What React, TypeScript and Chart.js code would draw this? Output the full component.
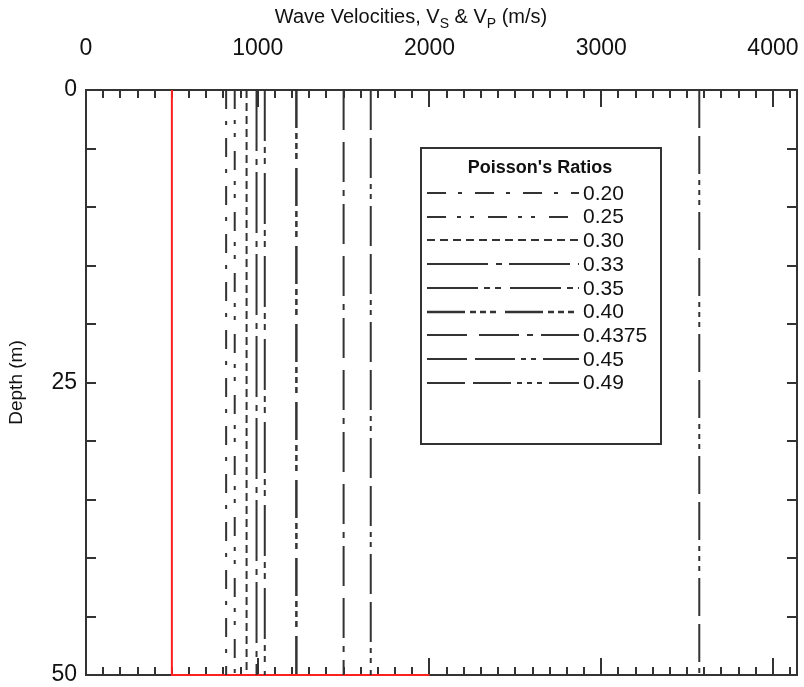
import React, { useEffect, useRef } from "react";
import { Chart, registerables } from "chart.js";

Chart.register(...registerables);

// ---- Data ----
const poissonRatios = ["0.20", "0.25", "0.30", "0.33", "0.35", "0.40", "0.4375", "0.45", "0.49"];
const vpValues = [816, 866, 935, 993, 1041, 1225, 1500, 1658, 3571]; // m/s
const profileDepths = [0, 50]; // m
const vsValues = [500, 500, 2000]; // m/s
const vsDepths = [0, 50, 50]; // m
const xTickLabels = [0, 1000, 2000, 3000, 4000];
const yTickLabels = [0, 25, 50];

// ---- Styles ----
const dashStyles: number[][] = [
  [19, 12, 4, 13],
  [19, 11, 4, 9, 4, 14],
  [8, 5],
  [61, 8, 6, 7],
  [51, 6, 6, 5, 6, 9],
  [38, 5, 6, 4, 6, 4, 6, 9],
  [40, 12, 40, 8, 6, 8],
  [40, 8, 40, 6, 5, 5, 5, 7],
  [38, 8, 38, 6, 5, 5, 5, 5, 5, 7],
];
const FONT = "Arial, 'Liberation Sans', Helvetica, sans-serif";
const INK = "#333";
const X_MAX = 4140;

const decorPlugin = {
  id: "decor",
  beforeDatasetsDraw(chart: any) {
    const { ctx, chartArea, scales } = chart;
    const { left, right, top, bottom } = chartArea;
    const x = scales.x;
    const y = scales.y;
    ctx.save();
    ctx.strokeStyle = INK;
    ctx.lineWidth = 2;
    ctx.strokeRect(left, top, right - left, bottom - top);
    ctx.beginPath();
    for (let v = 100; v < X_MAX; v += 100) {
      const px = Math.round(x.getPixelForValue(v));
      const len = v % 1000 === 0 ? 17 : 8;
      ctx.moveTo(px, top);
      ctx.lineTo(px, top + len);
      ctx.moveTo(px, bottom);
      ctx.lineTo(px, bottom - len);
    }
    for (let d = 5; d < 50; d += 5) {
      const py = Math.round(y.getPixelForValue(d));
      const len = 10;
      ctx.moveTo(left, py);
      ctx.lineTo(left + len, py);
      ctx.moveTo(right, py);
      ctx.lineTo(right - len, py);
    }
    ctx.stroke();
    ctx.restore();
  },
  afterDatasetsDraw(chart: any) {
    const { ctx, chartArea } = chart;
    ctx.save();
    // Legend box
    const bx = 421, by = 148, bw = 240, bh = 296;
    ctx.fillStyle = "#fff";
    ctx.fillRect(bx, by, bw, bh);
    ctx.strokeStyle = INK;
    ctx.lineWidth = 2;
    ctx.strokeRect(bx, by, bw, bh);
    ctx.fillStyle = "#111";
    ctx.font = `bold 18px ${FONT}`;
    ctx.textAlign = "center";
    ctx.textBaseline = "middle";
    ctx.fillText("Poisson's Ratios", 540, 168);
    ctx.font = `21px ${FONT}`;
    ctx.textAlign = "left";
    poissonRatios.forEach((label, i) => {
      const ry = 193 + i * 23.7;
      ctx.strokeStyle = INK;
      ctx.lineWidth = i === 5 ? 2.5 : 2;
      ctx.setLineDash(dashStyles[i]);
      ctx.beginPath();
      ctx.moveTo(427, Math.round(ry));
      ctx.lineTo(579, Math.round(ry));
      ctx.stroke();
      ctx.setLineDash([]);
      ctx.fillStyle = "#111";
      ctx.fillText(label, 583, ry + 1);
    });
    // X axis title with subscripts
    const parts: [string, boolean][] = [
      ["Wave Velocities, V", false],
      ["S", true],
      [" & V", false],
      ["P", true],
      [" (m/s)", false],
    ];
    const mainFont = `20px ${FONT}`;
    const subFont = `14px ${FONT}`;
    let total = 0;
    parts.forEach(([t, sub]) => {
      ctx.font = sub ? subFont : mainFont;
      total += ctx.measureText(t).width;
    });
    let cx = 411 - total / 2;
    const ty = 17;
    ctx.textAlign = "left";
    ctx.textBaseline = "middle";
    parts.forEach(([t, sub]) => {
      ctx.font = sub ? subFont : mainFont;
      ctx.fillText(t, cx, sub ? ty + 7 : ty);
      cx += ctx.measureText(t).width;
    });
    // Y axis title
    ctx.font = `19px ${FONT}`;
    ctx.translate(17, (chartArea.top + chartArea.bottom) / 2);
    ctx.rotate(-Math.PI / 2);
    ctx.textAlign = "center";
    ctx.fillText("Depth (m)", 0, 0);
    ctx.restore();
  },
};

export default function App() {
  const ref = useRef<HTMLCanvasElement>(null);
  useEffect(() => {
    if (!ref.current) return;
    const datasets: any[] = vpValues.map((v, i) => ({
      label: poissonRatios[i],
      data: profileDepths.map((d) => ({ x: v, y: d })),
      borderColor: INK,
      borderWidth: i === 5 ? 2.5 : 2,
      borderDash: dashStyles[i],
      pointRadius: 0,
      showLine: true,
      fill: false,
    }));
    datasets.push({
      label: "Vs",
      data: vsValues.map((v, i) => ({ x: v, y: vsDepths[i] })),
      borderColor: "#ff2020",
      borderWidth: 2,
      pointRadius: 0,
      showLine: true,
      fill: false,
      clip: false,
    });
    const chart = new Chart(ref.current, {
      type: "scatter",
      data: { datasets },
      options: {
        animation: false,
        responsive: false,
        devicePixelRatio: 1,
        layout: { padding: { left: 0, top: 0, right: 7, bottom: 12 } },
        plugins: { legend: { display: false }, title: { display: false }, tooltip: { enabled: false } },
        scales: {
          x: {
            type: "linear",
            position: "top",
            min: 0,
            max: X_MAX,
            afterFit: (s: any) => {
              s.height = 90;
              s.paddingLeft = 0;
              s.paddingRight = 0;
            },
            afterBuildTicks: (s: any) => {
              s.ticks = xTickLabels.map((v) => ({ value: v }));
            },
            grid: { display: false, drawTicks: false },
            border: { display: false },
            ticks: {
              padding: 28,
              maxRotation: 0,
              color: "#111",
              font: { family: FONT, size: 23 },
              callback: (v: any) => String(v),
            },
          },
          y: {
            type: "linear",
            reverse: true,
            min: 0,
            max: 50,
            afterFit: (s: any) => {
              s.width = 86;
              s.paddingTop = 0;
              s.paddingBottom = 0;
            },
            afterBuildTicks: (s: any) => {
              s.ticks = yTickLabels.map((v) => ({ value: v }));
            },
            grid: { display: false, drawTicks: false },
            border: { display: false },
            ticks: {
              padding: 9,
              color: "#111",
              font: { family: FONT, size: 23 },
              callback: (v: any) => String(v),
            },
          },
        },
      },
      plugins: [decorPlugin],
    });
    return () => chart.destroy();
  }, []);
  return (
    <div style={{ position: "absolute", left: 0, top: 0, width: 804, height: 687, background: "#fff" }}>
      <canvas ref={ref} width={804} height={687} />
    </div>
  );
}
